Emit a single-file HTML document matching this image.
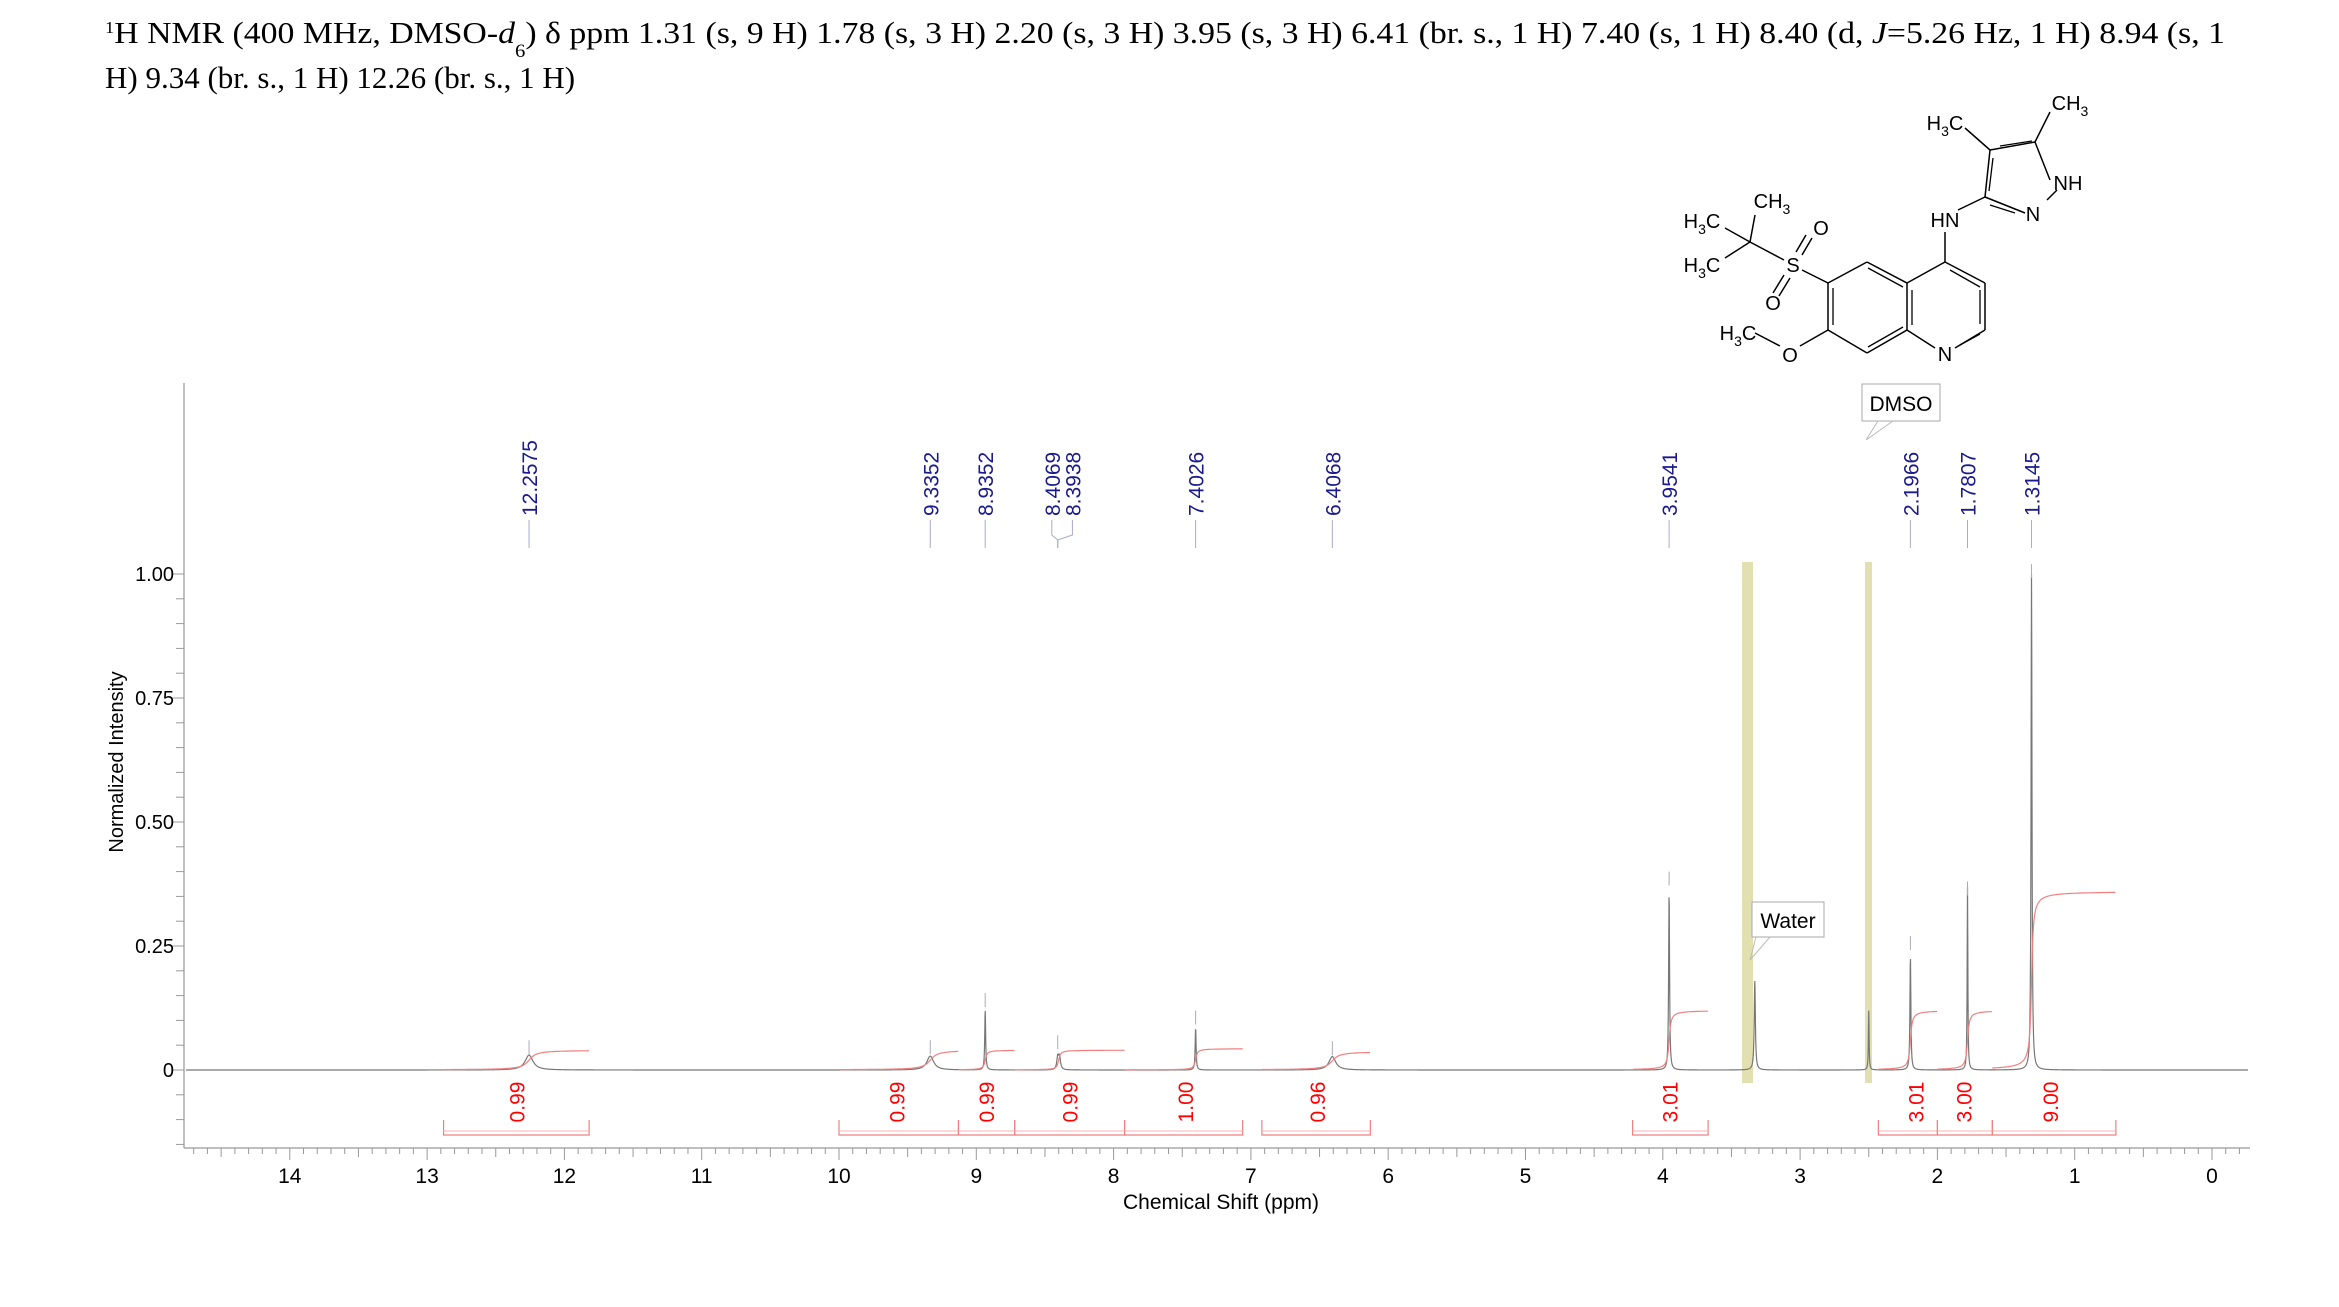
<!DOCTYPE html>
<html><head><meta charset="utf-8"><style>
html,body{margin:0;padding:0;background:#fff;width:2339px;height:1307px;overflow:hidden}
svg{display:block}
</style></head><body>
<svg id="s" width="2339" height="1307" xmlns="http://www.w3.org/2000/svg" font-family="Liberation Sans, sans-serif">
<text x="105" y="43" font-family="Liberation Serif, serif" font-size="31" fill="#000" textLength="2120" lengthAdjust="spacingAndGlyphs"><tspan font-size="17" dy="-10">1</tspan><tspan dy="10">H NMR (400 MHz, DMSO-</tspan><tspan font-style="italic">d</tspan><tspan font-size="19" dy="14">6</tspan><tspan dy="-14">) δ ppm 1.31 (s, 9 H) 1.78 (s, 3 H) 2.20 (s, 3 H) 3.95 (s, 3 H) 6.41 (br. s., 1 H) 7.40 (s, 1 H) 8.40 (d,  </tspan><tspan font-style="italic">J</tspan><tspan>=5.26 Hz, 1 H) 8.94 (s, 1</tspan></text>
<text x="105" y="88" font-family="Liberation Serif, serif" font-size="31" fill="#000">H) 9.34 (br. s., 1 H) 12.26 (br. s., 1 H)</text>
<g id="g"></g>
</svg>
<script>
var NS="http://www.w3.org/2000/svg",g=document.getElementById('g');
function el(t,a,txt){var e=document.createElementNS(NS,t);for(var k in a)e.setAttribute(k,a[k]);if(txt!=null)e.textContent=txt;g.appendChild(e);return e;}
function X(p){return 2212-p*137.3;}
var Y0=1070,SC=496;function Y(v){return Y0-v*SC;}
el('rect',{x:1742,y:562,width:11,height:521,fill:'#e2e0b0'});
el('rect',{x:1865,y:562,width:7,height:521,fill:'#e2e0b0'});
el('line',{x1:184,y1:383,x2:184,y2:1148,stroke:'#aaa','stroke-width':1.5});
el('line',{x1:184,y1:1148,x2:2250,y2:1148,stroke:'#aaa','stroke-width':1.5});
for(var v=-0.15;v<=1.0001;v+=0.05){var y=Y(v);if(y>1145)continue;var maj=Math.abs(v*4-Math.round(v*4))<1e-6;el('line',{x1:maj?172:176,y1:y,x2:184,y2:y,stroke:'#999','stroke-width':1});}
[[1,'1.00'],[0.75,'0.75'],[0.5,'0.50'],[0.25,'0.25'],[0,'0']].forEach(function(a){el('text',{x:174,y:Y(a[0])+7,'font-size':20,'text-anchor':'end',fill:'#000'},a[1]);});
el('text',{transform:'translate(123,762) rotate(-90)','font-size':20,'text-anchor':'middle',fill:'#000'},'Normalized Intensity');
for(var i=-3;i<=147;i++){var p=i/10,x=X(p);if(x<186||x>2248)continue;var L=(i%10==0)?12:(i%5==0?9:6);el('line',{x1:x,y1:1148,x2:x,y2:1148+L,stroke:'#999','stroke-width':1});}
for(var p=0;p<=14;p++)el('text',{x:X(p),y:1183,'font-size':21,'text-anchor':'middle',fill:'#000'},''+p);
el('text',{x:1221,y:1209,'font-size':21,'text-anchor':'middle',fill:'#000'},'Chemical Shift (ppm)');
var pk=[[12.2575,0.03,0.035],[9.3352,0.028,0.03],[8.9352,0.12,0.004],[8.4069,0.025,0.008],[8.3938,0.025,0.008],[7.4026,0.085,0.004],[6.4068,0.027,0.03],[3.9541,0.36,0.004],[3.33,0.18,0.005],[2.50,0.12,0.003],[2.1966,0.23,0.004],[1.7807,0.37,0.003],[1.3145,1.0,0.004]];
var d='';for(var x=186;x<=2248;x+=0.25){var p=(2212-x)/137.3,v=0;pk.forEach(function(q){var t=(p-q[0])/q[2];v+=q[1]/(1+t*t);});d+=(d?'L':'M')+x.toFixed(2)+' '+Y(v).toFixed(2);}
el('path',{d:d,fill:'none',stroke:'#777','stroke-width':1.2});
[[12.2575,0.06],[9.3352,0.06],[8.9352,0.155],[8.4069,0.07],[7.4026,0.12],[6.4068,0.058],[3.9541,0.40],[2.1966,0.27],[1.7807,0.38],[1.3145,1.02]].forEach(function(a){el('line',{x1:X(a[0]),y1:Y(a[1]),x2:X(a[0]),y2:Y(a[1])+14,stroke:'#aab','stroke-width':1});});
var ig=[[12.88,11.82,12.2575,0.04,'0.99',12.35],[10.0,9.13,9.3352,0.04,'0.99',9.58],[9.13,8.72,8.9352,0.04,'0.99',8.93],[8.72,7.92,8.40,0.04,'0.99',8.32],[7.92,7.06,7.4026,0.043,'1.00',7.48],[6.92,6.13,6.4068,0.037,'0.96',6.52],[4.22,3.67,3.9541,0.12,'3.01',3.95],[2.43,2.0,2.1966,0.12,'3.01',2.16],[2.0,1.6,1.7807,0.12,'3.00',1.81],[1.6,0.7,1.3145,0.36,'9.00',1.18]];
ig.forEach(function(a){var s='';for(var p=a[0];p>=a[1];p-=0.004){var w=(a[2]==12.2575||a[2]==9.3352||a[2]==6.4068)?0.04:0.01;var f=0.5+Math.atan((a[2]-p)/w)/Math.PI;s+=(s?'L':'M')+X(p).toFixed(1)+' '+Y(a[3]*f).toFixed(1);}
el('path',{d:s,fill:'none',stroke:'#f08080','stroke-width':1.2});
var x1=X(a[0]),x2=X(a[1]);el('path',{d:'M'+x1+' 1120 V1135 H'+x2+' V1120',fill:'none',stroke:'#f08080','stroke-width':1.2});
el('line',{x1:x1,y1:1131,x2:x2,y2:1131,stroke:'#f8b0b0','stroke-width':1});
el('text',{transform:'translate('+(X(a[5])+8)+',1102) rotate(-90)','font-size':21,'text-anchor':'middle',fill:'#f00'},a[4]);});
[[12.2575,12.2575],[9.3352,9.3352],[8.9352,8.9352],[8.4069,8.45],[8.3938,8.30],[7.4026,7.4026],[6.4068,6.4068],[3.9541,3.9541],[2.1966,2.1966],[1.7807,1.7807],[1.3145,1.3145]].forEach(function(a){var xl=X(a[1]);
el('text',{transform:'translate('+(xl+8)+',516) rotate(-90)','font-size':21,fill:'#1a1a8c'},a[0].toFixed(4));
if(a[0]==8.4069||a[0]==8.3938){el('path',{d:'M'+xl+' 520 V535 L'+X(8.4069)+' 540 V548',fill:'none',stroke:'#aac','stroke-width':1});}
else el('line',{x1:xl,y1:520,x2:xl,y2:548,stroke:'#aac','stroke-width':1});});
el('rect',{x:1862,y:384,width:78,height:37,fill:'#fff',stroke:'#aaa'});
el('text',{x:1901,y:411,'font-size':21,'text-anchor':'middle',fill:'#000'},'DMSO');
el('path',{d:'M1878 421 L1866 440 M1893 421 L1866 440',stroke:'#bbb',fill:'none'});
el('rect',{x:1752,y:902,width:72,height:35,fill:'#fff',stroke:'#aaa'});
el('text',{x:1788,y:928,'font-size':21,'text-anchor':'middle',fill:'#000'},'Water');
el('path',{d:'M1756 937 L1750 960 M1770 937 L1750 960',stroke:'#bbb',fill:'none'});
var B=[[2035,142,1990,150],[1990,150,1985,197],[1985,197,2025,213],[2047,200,2057,190],[2035,142,2050,180],[2035,142,2050,112],[1990,150,1965,128],[1985,197,1958,210],[1945,232,1945,262],[1945,262,1985,283],[1985,283,1985,330],[1985,330,1955,348],[1935,348,1907,330],[1907,330,1907,283],[1907,283,1945,262],[1907,283,1867,262],[1867,262,1828,283],[1828,283,1828,330],[1828,330,1867,353],[1867,353,1907,330],[1828,283,1802,270],[1784,260,1750,242],[1750,242,1755,215],[1750,242,1725,228],[1750,242,1725,258],[1796,252,1806,235],[1802,255,1812,238],[1784,275,1773,293],[1790,278,1779,296],[1828,330,1800,346],[1780,346,1755,333]];
B.forEach(function(b){el('line',{x1:b[0],y1:b[1],x2:b[2],y2:b[3],stroke:'#000','stroke-width':1.5});});
[[1993,158,1989,191],[1950,270,1980,287],[1980,290,1980,324],[1980,334,1960,345],[1912,290,1912,325],[1868,268,1903,287],[1833,288,1833,325],[1868,347,1903,327],[1990,205,2015,213],[2000,146,2032,141]].forEach(function(b){el('line',{x1:b[0],y1:b[1],x2:b[2],y2:b[3],stroke:'#000','stroke-width':1.3});});
function T(x,y,t){el('text',{x:x,y:y,'font-size':20,fill:'#000','text-anchor':'middle'},t);}
function T3(x,y,h){var e=el('text',{x:x,y:y,'font-size':20,fill:'#000','text-anchor':'middle'});e.innerHTML=h;}
var CH='CH<tspan font-size="14" dy="6">3</tspan>',HC='H<tspan font-size="14" dy="6">3</tspan><tspan dy="-6">C</tspan>';
T3(2070,110,CH);T3(1945,130,HC);
T(2068,190,'NH');T(2033,221,'N');T(1945,227,'HN');T(1945,361,'N');
T3(1772,208,CH);T3(1702,228,HC);T3(1702,272,HC);
T(1793,272,'S');T(1821,235,'O');T(1773,310,'O');T(1790,362,'O');
T3(1738,340,HC);
</script>
</body></html>
